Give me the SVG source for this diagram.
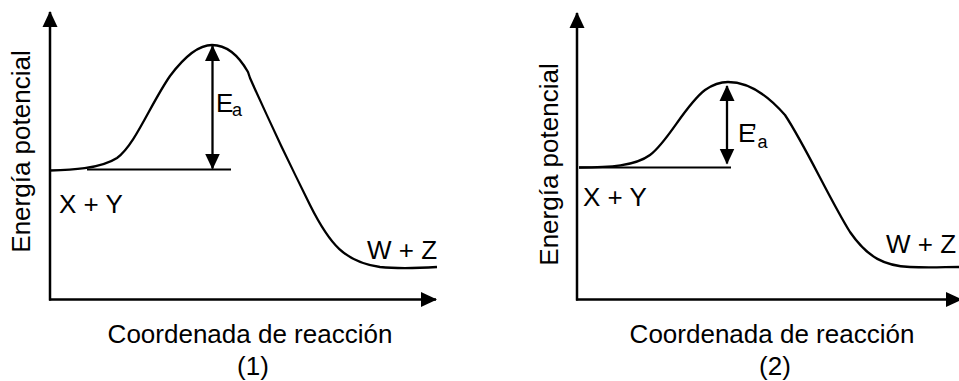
<svg xmlns="http://www.w3.org/2000/svg" width="959" height="381" viewBox="0 0 959 381">
<style>
.ax{stroke:#000;stroke-width:2.5;fill:none}
.cv{stroke:#000;stroke-width:2.3;fill:none;stroke-linejoin:round}
.bl{stroke:#000;stroke-width:2.2;fill:none}
.ar{stroke:#000;stroke-width:2.3;fill:none}
text{font-family:"Liberation Sans",Arial,sans-serif;font-size:26px;fill:#000}
.sub{font-size:18px}
</style>
<defs>
<marker id="head" viewBox="0 0 16 16" markerWidth="16" markerHeight="16" refX="15" refY="8" markerUnits="userSpaceOnUse" orient="auto-start-reverse">
<path d="M0,0.5 L16,8 L0,15.5 Z" fill="#000"/>
</marker>
</defs>
<rect width="959" height="381" fill="#fff"/>
<g id="panel1">
<g id="axes1">
<line class="ax" x1="50" y1="300.5" x2="50" y2="12" marker-end="url(#head)"/>
<line class="ax" x1="49" y1="299.5" x2="436" y2="299.5" marker-end="url(#head)"/>
</g>
<path id="curve1" class="cv" d="M50,170.5 C70,170 100,169 117,158 C135,145 150,105 170,76 C185,56 200,45 212,45 C228,45 240,58 248,72 L250,78 C262,105 290,165 310,205 C330,245 345,262 380,267 C400,269 420,268 437,267"/>
<line id="base1" class="bl" x1="87" y1="169.5" x2="231" y2="169.5"/>
<line id="ea1" class="ar" x1="212.5" y1="46" x2="212.5" y2="168.5" marker-start="url(#head)" marker-end="url(#head)"/>
<text x="216" y="112">E<tspan class="sub" x="232" y="116">a</tspan></text>
<text transform="translate(30,151.5) rotate(-90)" text-anchor="middle">Energía potencial</text>
<text x="59" y="213">X + Y</text>
<text x="367" y="259">W + Z</text>
<text x="250" y="343" text-anchor="middle">Coordenada de reacción</text>
<text x="253" y="375" text-anchor="middle">(1)</text>
</g>
<g id="panel2">
<g id="axes2">
<line class="ax" x1="577" y1="300.5" x2="577" y2="13" marker-end="url(#head)"/>
<line class="ax" x1="576" y1="299.5" x2="961" y2="299.5" marker-end="url(#head)"/>
</g>
<path id="curve2" class="cv" d="M579,167.5 C610,167.5 635,166 650,155 C668,142 685,105 705,90 C715,83 722,82 728,82 C745,82 765,92 785,115 C805,145 830,200 850,232 C868,258 885,266 910,267 C930,268 945,267 959,267"/>
<line id="base2" class="bl" x1="579" y1="167.5" x2="731" y2="167.5"/>
<line id="ea2" class="ar" x1="727" y1="86" x2="727" y2="163.5" marker-start="url(#head)" marker-end="url(#head)"/>
<text x="738" y="142">E<tspan x="751">’</tspan><tspan class="sub" x="757.5" y="148">a</tspan></text>
<text transform="translate(558,164.5) rotate(-90)" text-anchor="middle">Energía potencial</text>
<text x="583" y="206">X + Y</text>
<text x="886" y="253">W + Z</text>
<text x="772" y="343" text-anchor="middle">Coordenada de reacción</text>
<text x="775" y="375" text-anchor="middle">(2)</text>
</g>
</svg>
